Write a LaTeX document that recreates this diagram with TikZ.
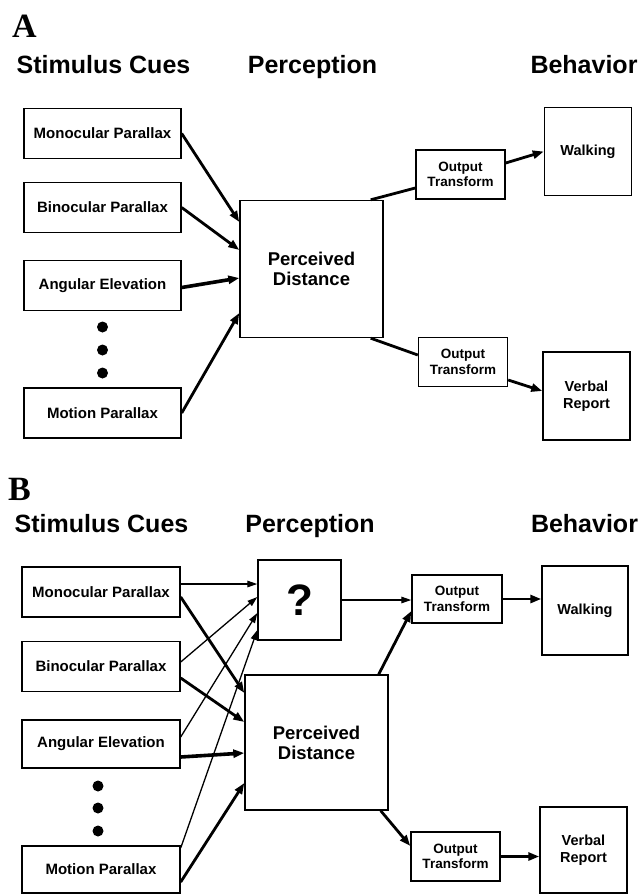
\documentclass[tikz,border=0pt]{standalone}
\usepackage{fontspec}
\setmainfont{Liberation Sans}
\newfontfamily\serifbold{Liberation Serif}
\usetikzlibrary{arrows.meta}
\begin{document}
\begin{tikzpicture}[x=1pt,y=-1pt,
  box/.style={draw,line width=1.4pt,inner sep=0pt,align=center},
  cue/.style={box,minimum width=157pt,minimum height=50pt,font=\bfseries\fontsize{15}{17}\selectfont},
  pd/.style={box,minimum width=143pt,minimum height=137pt,font=\bfseries\fontsize{18.5}{20}\selectfont},
  ot/.style={box,minimum width=89pt,minimum height=49pt,font=\bfseries\fontsize{13.5}{15.5}\selectfont},
  beh/.style={box,minimum width=87pt,minimum height=88pt,font=\bfseries\fontsize{14.5}{17}\selectfont},
  qbox/.style={box,minimum width=83pt,minimum height=80pt,font=\bfseries\fontsize{44}{44}\selectfont},
  heading/.style={anchor=base,inner sep=0pt,font=\bfseries\fontsize{25}{27}\selectfont},
  panel/.style={anchor=base west,inner sep=0pt,font=\serifbold\bfseries\fontsize{34}{34}\selectfont},
  thickarr/.style={line width=2.8pt,-{Triangle[length=11pt,width=8pt]}},
  thinarr/.style={line width=1.3pt,-{Triangle[length=10pt,width=6.5pt]}},
  thickline/.style={line width=2.8pt},
  dot/.style={fill=black}
]
\useasboundingbox (0,0) rectangle (641,895);

% ---------------- Panel A ----------------
\node[panel] (lblA) at (12,37) {A};
\node[heading] (hsA) at (103.5,73) {Stimulus Cues};
\node[heading] (hpA) at (312.5,73) {Perception};
\node[heading] (hbA) at (584,73) {Behavior};

\node[cue] (mpA) at (102.5,133.5) {Monocular Parallax};
\node[cue] (bpA) at (102.5,207.5) {Binocular Parallax};
\node[cue] (aeA) at (102.5,285.5) {Angular Elevation};
\node[cue] (mtA) at (102.5,413) {Motion Parallax};
\fill[dot] (102.5,327) circle (5.5);
\fill[dot] (102.5,350) circle (5.5);
\fill[dot] (102.5,373) circle (5.5);

\node[pd] (pdA) at (311.5,269) {Perceived\\Distance};
\node[ot] (otA1) at (460.5,174.5) {Output\\Transform};
\node[beh] (wkA) at (588,151.5) {Walking};
\node[ot] (otA2) at (463,362) {Output\\Transform};
\node[beh] (vrA) at (586.5,396) {Verbal\\Report};

\draw[thickarr] (mpA.east) -- ([yshift=47pt]pdA.west);
\draw[thickarr] (bpA.east) -- ([yshift=19pt]pdA.west);
\draw[thickarr,line width=3.6pt] ([yshift=-2pt]aeA.east) -- ([yshift=-9pt]pdA.west);
\draw[thickarr] (mtA.east) -- ([yshift=-44pt]pdA.west);

\draw[thickline] ([xshift=-13pt]pdA.north east) -- ([yshift=-13.5pt]otA1.west);
\draw[thickarr] ([yshift=11.5pt]otA1.east) -- (wkA.west);
\draw[thickline] ([xshift=-13pt]pdA.south east) -- ([yshift=7pt]otA2.west);
\draw[thickarr] ([yshift=-18pt]otA2.east) -- ([yshift=5pt]vrA.west);

% ---------------- Panel B ----------------
\node[panel] (lblB) at (8,500) {B};
\node[heading] (hsB) at (101.5,532) {Stimulus Cues};
\node[heading] (hpB) at (310,532) {Perception};
\node[heading] (hbB) at (584.5,532) {Behavior};

\node[cue,minimum width=158pt] (mpB) at (101,592) {Monocular Parallax};
\node[cue,minimum width=158pt] (bpB) at (101,666.5) {Binocular Parallax};
\node[cue,minimum width=158pt,minimum height=48pt] (aeB) at (101,744) {Angular Elevation};
\node[cue,minimum width=158pt,minimum height=47pt] (mtB) at (101,869.5) {Motion Parallax};
\fill[dot] (98,786) circle (5.5);
\fill[dot] (98,808) circle (5.5);
\fill[dot] (98,831) circle (5.5);

\node[qbox] (qB) at (299.5,600) {?};
\node[pd,minimum height=135pt] (pdB) at (316.5,742.5) {Perceived\\Distance};
\node[ot,minimum width=90pt,minimum height=48pt] (otB1) at (457,599) {Output\\Transform};
\node[beh,minimum width=86pt,minimum height=89pt] (wkB) at (585,610.5) {Walking};
\node[ot] (otB2) at (455.5,856.5) {Output\\Transform};
\node[beh,minimum height=86pt] (vrB) at (583.5,850) {Verbal\\Report};

% thin arrows to the "?" box
\draw[thinarr] ([yshift=8pt]mpB.east) -- ([yshift=16pt]qB.west);
\draw[thinarr] ([yshift=4.5pt]bpB.east) -- ([yshift=3pt]qB.west);
\draw[thinarr] ([yshift=7pt]aeB.east) -- ([yshift=-13pt]qB.west);
\draw[thinarr] ([yshift=21.5pt]mtB.east) -- ([yshift=-30pt]qB.west);

% thick arrows to Perceived Distance
\draw[thickarr] ([yshift=-5pt]mpB.east) -- ([yshift=49.5pt]pdB.west);
\draw[thickarr] ([yshift=-11.5pt]bpB.east) -- ([yshift=20.5pt]pdB.west);
\draw[thickarr,line width=3.6pt] ([yshift=-13pt]aeB.east) -- ([yshift=-10.5pt]pdB.west);
\draw[thickarr] ([yshift=-12.5pt]mtB.east) -- ([yshift=-40.5pt]pdB.west);

% perception to output
\draw[thinarr] (qB.east) -- (qB.east -| otB1.west);
\draw[thickarr] ([xshift=-10pt]pdB.north east) -- ([yshift=-12pt]otB1.west);
\draw[thickarr] (otB1.east) -- (otB1.east -| wkB.west);
\draw[thickarr] ([xshift=-8pt]pdB.south east) -- ([yshift=10.5pt]otB2.west);
\draw[thickarr] (otB2.east) -- (otB2.east -| vrB.west);
\end{tikzpicture}
\end{document}
